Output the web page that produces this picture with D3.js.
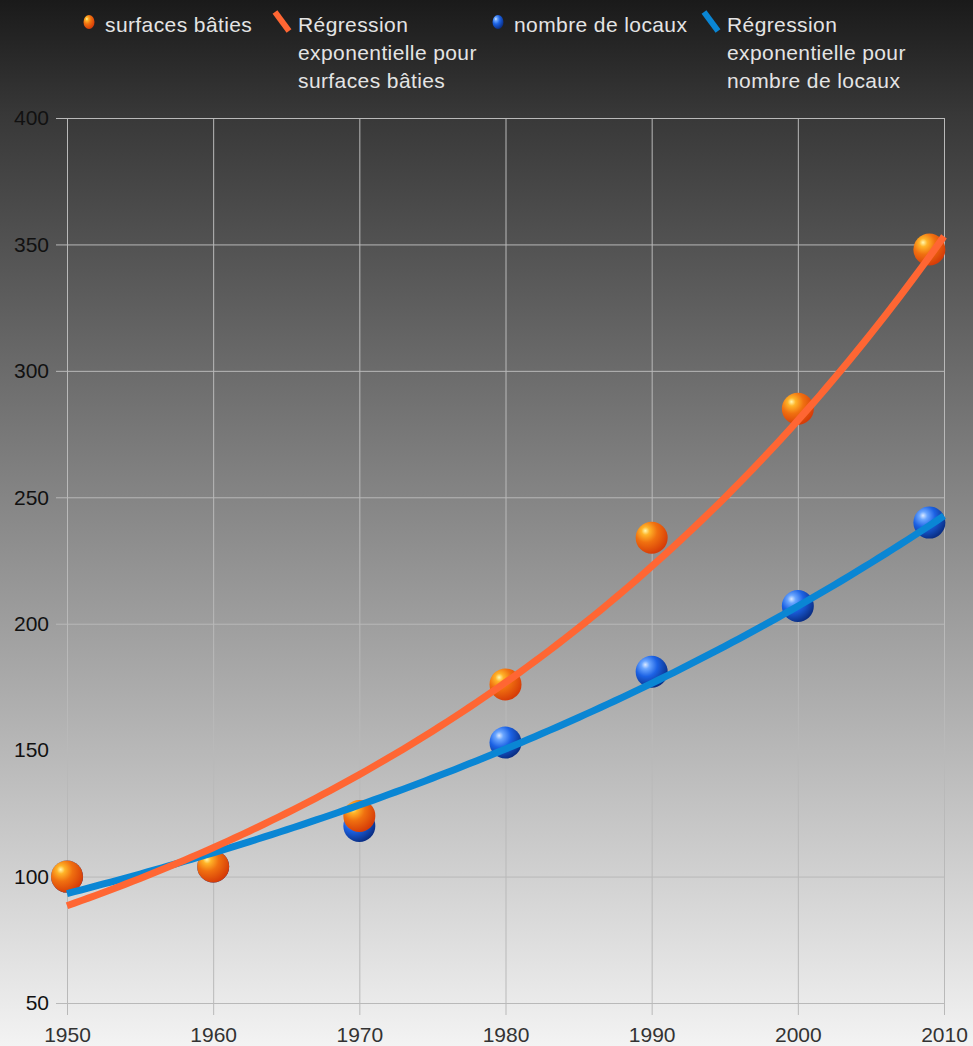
<!DOCTYPE html>
<html>
<head>
<meta charset="utf-8">
<script src="https://cdn.jsdelivr.net/npm/d3@7"></script>
<style>
  html, body { margin: 0; padding: 0; background: #1b1b1b; }
  svg { display: block; }
</style>
</head>
<body>
<svg id="chart" width="973" height="1046"></svg>
<script>
// Years of observation and the two indexed series (1950 = 100)
const years = [1950, 1960, 1970, 1980, 1990, 2000, 2009];
const surfacesBaties = [100, 104, 124, 176, 234, 285, 348];
const nombreLocaux = [100, 104, 120, 153, 181, 207, 240];
const xTicks = [1950, 1960, 1970, 1980, 1990, 2000, 2010];
const yTicks = [50, 100, 150, 200, 250, 300, 350, 400];
const legendLabels = [
  ["surfaces bâties"],
  ["Régression", "exponentielle pour", "surfaces bâties"],
  ["nombre de locaux"],
  ["Régression", "exponentielle pour", "nombre de locaux"]
];

const W = 973, H = 1046;
const FONT = "Liberation Sans, Arial, sans-serif";
const svg = d3.select("#chart");
const defs = svg.append("defs");

// page background gradient: dark at the top, light at the bottom
const bg = defs.append("linearGradient").attr("id", "bg")
  .attr("x1", 0).attr("y1", 0).attr("x2", 0).attr("y2", 1);
bg.append("stop").attr("offset", "0%").attr("stop-color", "#1a1a1a");
bg.append("stop").attr("offset", "11%").attr("stop-color", "#383838");
bg.append("stop").attr("offset", "100%").attr("stop-color", "#f3f3f3");
svg.append("rect").attr("width", W).attr("height", H).attr("fill", "url(#bg)");

// ball gradients for the markers
function ball(id, hi, mid, dark) {
  const g = defs.append("radialGradient").attr("id", id)
    .attr("cx", "35%").attr("cy", "32%").attr("r", "70%").attr("fx", "30%").attr("fy", "28%");
  g.append("stop").attr("offset", "0%").attr("stop-color", hi);
  g.append("stop").attr("offset", "18%").attr("stop-color", mid[0]);
  g.append("stop").attr("offset", "50%").attr("stop-color", mid[1]);
  g.append("stop").attr("offset", "100%").attr("stop-color", dark);
}
ball("ballOrange", "#fff8b0", ["#ffb428", "#f07010"], "#d63c08");
ball("ballBlue", "#dbe9ff", ["#6aa6ff", "#1c62e4"], "#0a2f86");

const x = d3.scaleLinear().domain([1950, 2010]).range([67, 944]);
const y = d3.scaleLinear().domain([50, 400]).range([1003, 118]);

const gridColor = "#b9b9b9";
const plot = svg.append("g");

// horizontal grid + y axis ticks
const yAxis = d3.axisLeft(y).tickValues(yTicks).tickSize(11).tickPadding(6).tickFormat(d3.format("d"));
const gy = plot.append("g").attr("transform", `translate(${x(1950)},0)`).call(yAxis);
gy.select(".domain").remove();
gy.selectAll(".tick line").attr("stroke", gridColor)
  .attr("x1", -11).attr("x2", x(2010) - x(1950));
gy.selectAll(".tick text").attr("font-family", FONT)
  .attr("font-size", 21).attr("fill", "#111").attr("x", -18);

// vertical grid + x axis ticks
const xAxis = d3.axisBottom(x).tickValues(xTicks).tickSize(12).tickPadding(15).tickFormat(d3.format("d"));
const gx = plot.append("g").attr("transform", `translate(0,${y(50)})`).call(xAxis);
gx.select(".domain").remove();
gx.selectAll(".tick line").attr("stroke", gridColor)
  .attr("y1", y(400) - y(50)).attr("y2", 12);
gx.selectAll(".tick text").attr("font-family", FONT)
  .attr("font-size", 21).attr("fill", "#333").attr("y", 39).attr("dy", 0);

// exponential least-squares fit on ln(value)
function expFit(xs, ys) {
  const ly = ys.map(Math.log);
  const mx = d3.mean(xs), my = d3.mean(ly);
  let sxy = 0, sxx = 0;
  xs.forEach((v, i) => { sxy += (v - mx) * (ly[i] - my); sxx += (v - mx) * (v - mx); });
  const b = sxy / sxx;
  return t => Math.exp(my + b * (t - mx));
}
const fitSurf = expFit(years, surfacesBaties);
const fitLoc = expFit(years, nombreLocaux);
const curveYears = d3.range(1950, 2010.01, 0.5);

const line = f => d3.line().x(t => x(t)).y(t => y(f(t)))(curveYears);

const R = 16;
// series "nombre de locaux" drawn underneath
plot.append("g").selectAll("circle").data(years).join("circle")
  .attr("cx", d => x(d)).attr("cy", (d, i) => y(nombreLocaux[i])).attr("r", R)
  .attr("fill", "url(#ballBlue)");
plot.append("g").selectAll("circle").data(years).join("circle")
  .attr("cx", d => x(d)).attr("cy", (d, i) => y(surfacesBaties[i])).attr("r", R)
  .attr("fill", "url(#ballOrange)");

plot.append("path").attr("d", line(fitLoc)).attr("fill", "none")
  .attr("stroke", "#0a86d4").attr("stroke-width", 7).attr("stroke-linecap", "butt");
plot.append("path").attr("d", line(fitSurf)).attr("fill", "none")
  .attr("stroke", "#ff6633").attr("stroke-width", 7).attr("stroke-linecap", "butt");

// legend
const legend = svg.append("g").attr("font-family", FONT)
  .attr("font-size", 21).attr("letter-spacing", 0.4).attr("fill", "#e4e4e4");
const legendItems = [
  { x: 89, kind: "ball", fill: "url(#ballOrange)" },
  { x: 282, kind: "line", color: "#ff6633" },
  { x: 498, kind: "ball", fill: "url(#ballBlue)" },
  { x: 711, kind: "line", color: "#0a86d4" }
];
legendItems.forEach((it, i) => {
  const g = legend.append("g");
  if (it.kind === "ball") {
    g.append("ellipse").attr("cx", it.x).attr("cy", 22).attr("rx", 5.5).attr("ry", 7).attr("fill", it.fill);
  } else {
    g.append("line").attr("x1", it.x - 7).attr("y1", 12).attr("x2", it.x + 7).attr("y2", 31)
      .attr("stroke", it.color).attr("stroke-width", 6);
  }
  const tx = it.x + 16;
  const t = g.append("text").attr("x", tx).attr("y", 32);
  legendLabels[i].forEach((s, k) => {
    t.append("tspan").attr("x", tx).attr("y", 32 + k * 28).text(s);
  });
});
</script>
</body>
</html>
